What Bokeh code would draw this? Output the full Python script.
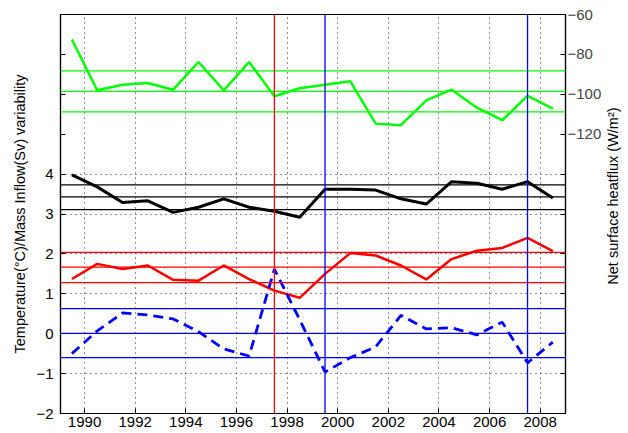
import math
from bokeh.plotting import figure
from bokeh.layouts import row
from bokeh.models import Range1d, LinearAxis, FixedTicker, Span
from bokeh.core.properties import value
from bokeh.embed import file_html
from bokeh.resources import INLINE

# ---- data ----
years = [1989.5, 1990.5, 1991.5, 1992.5, 1993.5, 1994.5, 1995.5, 1996.5, 1997.5, 1998.5,
         1999.5, 2000.5, 2001.5, 2002.5, 2003.5, 2004.5, 2005.5, 2006.5, 2007.5, 2008.5]
heatflux = [-72.5, -98.0, -95.2, -94.3, -97.7, -83.8, -98.0, -83.8, -101.0, -97.0,
            -95.2, -93.5, -114.7, -115.5, -103.0, -97.7, -106.7, -113.0, -100.8, -107.2]
temp_black = [3.98, 3.68, 3.29, 3.33, 3.04, 3.17, 3.38, 3.17, 3.07, 2.92,
              3.62, 3.62, 3.60, 3.38, 3.25, 3.81, 3.77, 3.62, 3.81, 3.40]
temp_red = [1.37, 1.75, 1.62, 1.71, 1.35, 1.33, 1.71, 1.37, 1.08, 0.90,
            1.50, 2.02, 1.96, 1.71, 1.36, 1.87, 2.08, 2.15, 2.40, 2.07]
inflow_blue = [-0.50, 0.07, 0.52, 0.47, 0.37, 0.05, -0.38, -0.56, 1.62, 0.35,
               -0.96, -0.60, -0.33, 0.46, 0.12, 0.15, -0.03, 0.29, -0.73, -0.21]

# mean and mean +/- std reference lines
green_levels = [-88.3, -98.5, -108.8]
black_levels = [3.73, 3.43, 3.11]
red_levels = [2.04, 1.67, 1.28]
blue_levels = [0.63, 0.01, -0.60]

red_events = [1997.5]
blue_events = [1999.5, 2007.5]

x_ticks = [1990, 1992, 1994, 1996, 1998, 2000, 2002, 2004, 2006, 2008]
left_ticks = [-2, -1, 0, 1, 2, 3, 4, 5, 6, 7, 8]
left_labelled = [-2, -1, 0, 1, 2, 3, 4]
right_ticks = [-260, -240, -220, -200, -180, -160, -140, -120, -100, -80, -60]
right_labelled = [-120, -100, -80, -60]

left_title = "Temperature(\u00b0C)/Mass Inflow(Sv) variability"
right_title = "Net surface heatflux (W/m\u00b2)"

FONT = "Liberation Sans"
GREEN = "#00ff00"
RED = "#ff0000"
BLUE = "#0000ff"

p = figure(width=604, height=433, output_backend="svg", toolbar_location=None,
           x_range=Range1d(1989.05, 2009.0), y_range=Range1d(-2, 8),
           min_border_left=60, min_border_right=37, min_border_top=14, min_border_bottom=20)
p.extra_y_ranges = {"flux": Range1d(-260, -60)}
p.background_fill_color = "white"
p.border_fill_color = "white"
p.outline_line_color = "black"
p.outline_line_width = 1.2

# axes
for ax in (p.xaxis[0], p.yaxis[0]):
    ax.major_tick_in = 5
    ax.major_tick_out = 0
    ax.minor_tick_in = 0
    ax.minor_tick_out = 0
    ax.axis_line_color = "black"
    ax.axis_line_width = 1.2
    ax.major_tick_line_color = "black"
    ax.major_label_text_font = FONT
    ax.major_label_text_font_size = "15px"
    ax.major_label_text_color = "black"
    ax.axis_label_text_font = FONT
    ax.axis_label_text_font_style = "normal"
    ax.axis_label_text_color = "black"

p.xaxis[0].ticker = FixedTicker(ticks=x_ticks)
p.xaxis[0].major_label_standoff = 3

p.yaxis[0].ticker = FixedTicker(ticks=left_ticks)
p.yaxis[0].major_label_overrides = {t: "" for t in left_ticks if t not in left_labelled}
p.yaxis[0].major_label_standoff = 7
p.yaxis[0].axis_label = left_title
p.yaxis[0].axis_label_text_font_size = "14.5px"
p.yaxis[0].axis_label_standoff = 5

rax = LinearAxis(y_range_name="flux", ticker=FixedTicker(ticks=right_ticks))
rax.major_label_overrides = {t: "" for t in right_ticks if t not in right_labelled}
rax.major_tick_in = 5
rax.major_tick_out = 0
rax.minor_tick_in = 0
rax.minor_tick_out = 0
rax.axis_line_color = "black"
rax.axis_line_width = 1.2
rax.major_label_text_font = FONT
rax.major_label_text_font_size = "15px"
rax.major_label_standoff = 2
rax.axis_label_standoff = 0
p.add_layout(rax, "right")

# grid
p.xgrid.ticker = FixedTicker(ticks=x_ticks)
p.ygrid.ticker = FixedTicker(ticks=left_labelled)
for g in (p.xgrid[0], p.ygrid[0]):
    g.grid_line_color = "#222222"
    g.grid_line_dash = "1 4"
    g.grid_line_width = 1

# reference lines
for lv in green_levels:
    p.add_layout(Span(location=lv, dimension="width", line_color=GREEN, line_width=1.3, y_range_name="flux"))
for lv in black_levels:
    p.add_layout(Span(location=lv, dimension="width", line_color="black", line_width=1.3))
for lv in red_levels:
    p.add_layout(Span(location=lv, dimension="width", line_color=RED, line_width=1.3))
for lv in blue_levels:
    p.add_layout(Span(location=lv, dimension="width", line_color=BLUE, line_width=1.3))
for ev in red_events:
    p.add_layout(Span(location=ev, dimension="height", line_color=RED, line_width=1.3))
for ev in blue_events:
    p.add_layout(Span(location=ev, dimension="height", line_color=BLUE, line_width=1.3))

# series
p.line(years, heatflux, line_color=GREEN, line_width=2.5, y_range_name="flux")
p.line(years, temp_black, line_color="black", line_width=3)
p.line(years, temp_red, line_color=RED, line_width=2.5)
p.line(years, inflow_blue, line_color=BLUE, line_width=2.8, line_dash="10 6")

# narrow strip carrying the right-hand axis title (reads bottom to top)
t = figure(width=24, height=433, output_backend="svg", toolbar_location=None,
           x_range=Range1d(0, 24), y_range=Range1d(0, 433),
           x_axis_type=None, y_axis_type=None,
           min_border_left=0, min_border_right=0, min_border_top=0, min_border_bottom=0)
t.outline_line_color = None
t.background_fill_color = "white"
t.border_fill_color = "white"
t.text(x=[8], y=[236], text=[right_title], angle=math.pi / 2,
       text_align="center", text_baseline="middle",
       text_font=value(FONT), text_font_size="14.5px", text_color="black")

layout = row(p, t, spacing=0)
open("out.html", "w").write(file_html(layout, INLINE))
